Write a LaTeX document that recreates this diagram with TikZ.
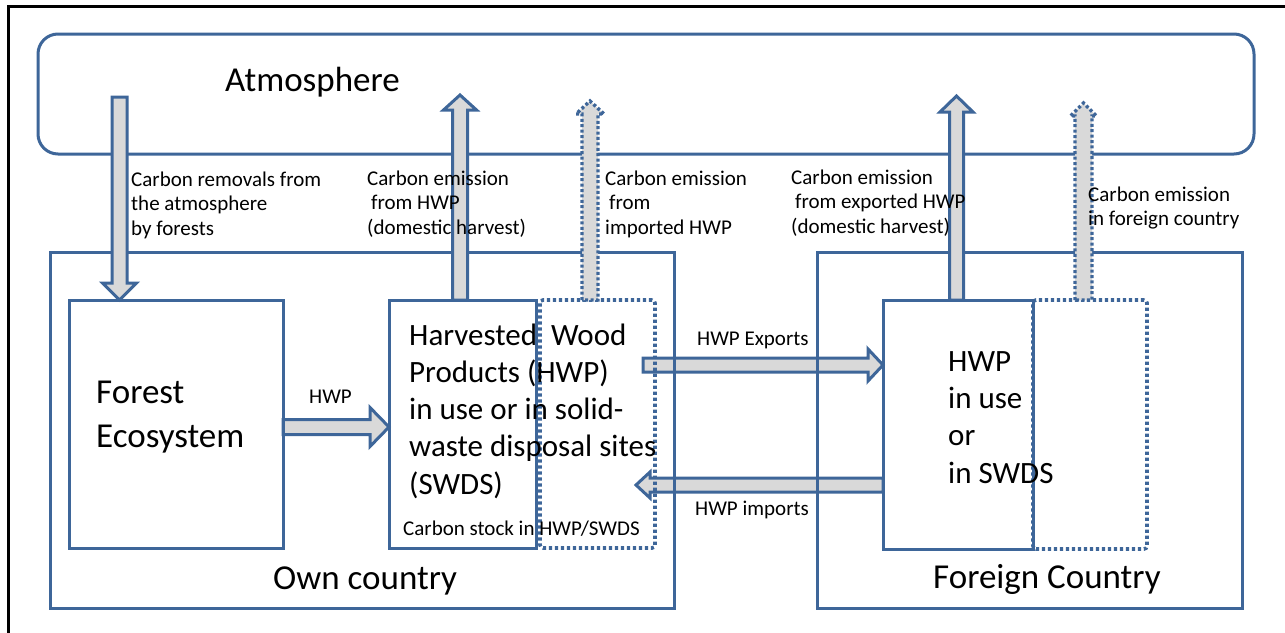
\documentclass[tikz,border=0pt]{standalone}
\usepackage{fontspec}
\setmainfont{Carlito}
\usetikzlibrary{calc}
\pgfdeclarelayer{bg}
\pgfsetlayers{bg,main}
\definecolor{bblue}{RGB}{62,102,153}
\definecolor{bgray}{RGB}{217,217,217}
\tikzset{
  box/.style={draw=bblue, line width=3pt, inner sep=0pt, outer sep=0pt},
  dotbox/.style={draw=bblue, line width=3.6pt, dash pattern=on 3.2pt off 2.8pt, rounded corners=3pt, inner sep=0pt, outer sep=0pt},
  barrow/.style={draw=bblue, fill=bgray, line width=3pt, line join=miter},
  dotarrow/.style={line width=3.4pt, dash pattern=on 3pt off 2.4pt},
  small/.style={font=\fontsize{21}{24.5}\selectfont, align=left, inner sep=0pt, anchor=base west},
  mid/.style={font=\fontsize{31}{37.2}\selectfont, align=left, inner sep=0pt, anchor=base west},
  big/.style={font=\fontsize{35}{44}\selectfont, align=left, inner sep=0pt, anchor=base west},
}
% block arrow: [style]{start}{tip}{half shaft}{half head}{head length}
\newcommand\blockarr[6][]{%
  \coordinate (bahead) at ($(#3)!#6!(#2)$);
  \draw[barrow,#1] ($(#2)!#4!90:(#3)$) -- ($(bahead)!#4!90:(#3)$) -- ($(bahead)!#5!90:(#3)$) -- (#3)
    -- ($(bahead)!#5!-90:(#3)$) -- ($(bahead)!#4!-90:(#3)$) -- ($(#2)!#4!-90:(#3)$) -- cycle;
}
\begin{document}
\begin{tikzpicture}[x=1pt,y=-1pt]
\useasboundingbox (0,0) rectangle (1285,632);
% frame
\draw[line width=3pt] (8.5,650) -- (8.5,6.5) -- (1300,6.5);

% containers
\node[box, rounded corners=20pt, minimum width=1216pt, minimum height=120pt] (atm) at (646,94) {};
\node[box, minimum width=624pt, minimum height=356pt] (own) at (362,430) {};
\node[box, minimum width=425pt, minimum height=356pt] (foreign) at (1029.5,430) {};

% inner boxes
\node[box, minimum width=214pt, minimum height=248pt] (forest) at (176,424) {};
\node[box, minimum width=147pt, minimum height=248pt] (hwp) at (462.5,424) {};
\node[dotbox, minimum width=115pt, minimum height=248pt] (hwpdot) at (597.5,424) {};
\node[box, minimum width=150pt, minimum height=249pt] (fhwp) at (958,424.5) {};
\node[dotbox, minimum width=114pt, minimum height=249pt] (fdot) at (1090,424.5) {};

% coordinates for connectors
\coordinate (rmtop) at (119.5,97);
\coordinate (rmtip) at (rmtop |- forest.north);
\coordinate (e1tip) at (460,95);
\coordinate (e1s) at (e1tip |- hwp.north);
\coordinate (e2tip) at (590,101);
\coordinate (e2s) at (e2tip |- hwpdot.north);
\coordinate (e3tip) at (956.5,96);
\coordinate (e3s) at (e3tip |- fhwp.north);
\coordinate (e4tip) at (1083.5,103);
\coordinate (e4s) at (e4tip |- fdot.north);
\coordinate (hs) at (forest.east |- 0,427);
\coordinate (ht) at (hwp.west |- 0,427);
\coordinate (xs) at (643,365);
\coordinate (xt) at (fhwp.west |- 0,365);
\coordinate (is) at (fhwp.west |- 0,485);
\coordinate (it) at (636,485);

% horizontal flows (behind the boxes)
\begin{pgfonlayer}{bg}
\blockarr{hs}{ht}{7.5pt}{19.5pt}{19pt}
\blockarr{xs}{xt}{7pt}{16pt}{15pt}
\blockarr{is}{it}{7pt}{13pt}{14pt}
\end{pgfonlayer}

% vertical flows
\blockarr{rmtop}{rmtip}{7.5pt}{17pt}{17pt}
\blockarr{e1s}{e1tip}{7.5pt}{16.5pt}{15pt}
\blockarr[dotarrow]{e2s}{e2tip}{8pt}{14pt}{13pt}
\blockarr{e3s}{e3tip}{7pt}{16.5pt}{16pt}
\blockarr[dotarrow]{e4s}{e4tip}{8.5pt}{13pt}{13pt}

% texts (anchor = baseline of the last line)
\node[big] (tatm) at (225,91) {Atmosphere};
\node[big] (tforest) at (96,447) {Forest\\Ecosystem};
\node[big] (town) at (273,589) {Own country};
\node[big] (tforeign) at (933,588) {Foreign Country};
\node[mid] (thwp) at (409,494) {Harvested\ \ Wood\\Products (HWP)\\in use or in solid-\\waste disposal sites\\(SWDS)};
\node[mid] (tfhwp) at (948,483) {HWP\\in use\\or\\in SWDS};
\node[small] (trem) at (131,235) {Carbon removals from\\the atmosphere\\by forests};
\node[small] (tem1) at (367,234) {Carbon emission\\\hspace{4pt}from HWP\\(domestic harvest)};
\node[small] (tem2) at (605,234) {Carbon emission\\\hspace{4pt}from\\imported HWP};
\node[small] (tem3) at (791,233) {Carbon emission\\\hspace{4pt}from exported HWP\\(domestic harvest)};
\node[small] (tem4) at (1088,225.5) {Carbon emission\\in foreign country};
\node[small] (tstock) at (403,535) {Carbon stock in HWP/SWDS};
\node[small] (tflow) at (309,403) {HWP};
\node[small] (texp) at (697,345) {HWP Exports};
\node[small] (timp) at (695,515) {HWP imports};
\end{tikzpicture}
\end{document}
